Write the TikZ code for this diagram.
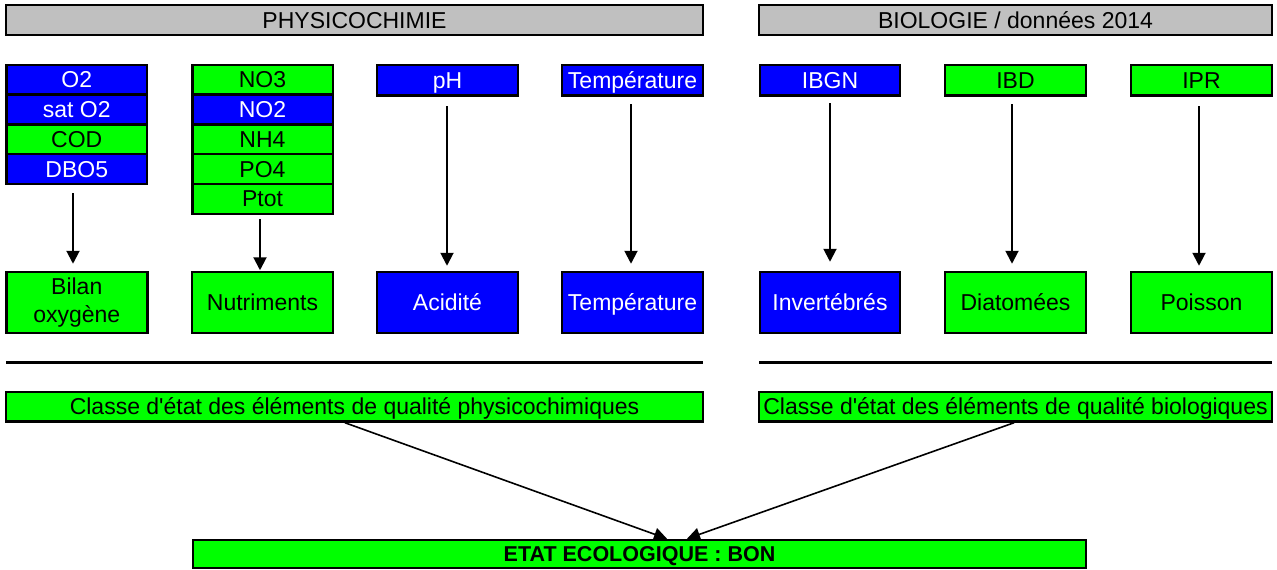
\documentclass[tikz,border=0pt]{standalone}
\usepackage{fontspec}
\setmainfont{Liberation Sans}
\usetikzlibrary{arrows.meta}
\definecolor{bl}{RGB}{0,0,255}
\definecolor{gr}{RGB}{0,255,0}
\definecolor{hd}{RGB}{192,192,192}
\tikzset{
  box/.style={draw=black, line width=2.5pt, inner sep=0pt,
    font=\fontsize{23}{28}\selectfont, text height=16pt, text depth=0pt},
  bbox/.style={box, fill=bl, text=white},
  gbox/.style={box, fill=gr, text=black},
  hbox/.style={box, fill=hd, text=black},
  cell/.style={minimum width=140.5pt, minimum height=29.75pt},
  top/.style={minimum width=141pt, minimum height=30.5pt},
  res/.style={minimum width=141pt, minimum height=61pt},
  wide/.style={minimum height=29.5pt},
  arr/.style={line width=2pt, -{Triangle[width=13pt,length=13pt]}},
  rule/.style={line width=3pt},
}
\begin{document}
\begin{tikzpicture}[x=1pt,y=-1pt]
\useasboundingbox (0,0) rectangle (1277,570);
% headers
\node[hbox, minimum width=697pt, minimum height=30pt] (hphys) at (354.5,20) {PHYSICOCHIMIE};
\node[hbox, minimum width=513pt, minimum height=30pt] (hbio) at (1015.5,20) {BIOLOGIE / données 2014};
% oxygen stack
\node[bbox, cell] (o2) at (76.75,79.9) {O2};
\node[bbox, cell] (sato2) at (76.75,109.6) {sat O2};
\node[gbox, cell] (cod) at (76.75,139.4) {COD};
\node[bbox, cell] (dbo) at (76.75,169.1) {DBO5};
% nutrient stack
\node[gbox, cell] (no3) at (262.5,79.9) {NO3};
\node[bbox, cell] (no2) at (262.5,109.6) {NO2};
\node[gbox, cell] (nh4) at (262.5,139.4) {NH4};
\node[gbox, cell] (po4) at (262.5,169.1) {PO4};
\node[gbox, cell] (ptot) at (262.5,198.9) {Ptot};
% single top boxes
\node[bbox, top] (ph) at (447.5,80.25) {pH};
\node[bbox, top] (temp) at (632.5,80.25) {Température};
\node[bbox, top, minimum width=140pt] (ibgn) at (830,80.25) {IBGN};
\node[gbox, top] (ibd) at (1015.5,80.25) {IBD};
\node[gbox, top] (ipr) at (1201.5,80.25) {IPR};
% result boxes
\node[gbox, res, text height=, text depth=, align=center] (bilan) at (76.75,302.5) {Bilan\\oxygène};
\node[gbox, res] (nutri) at (262.5,302.5) {Nutriments};
\node[bbox, res] (acid) at (447.5,302.5) {Acidité};
\node[bbox, res] (tempr) at (632.5,302.5) {Température};
\node[bbox, res, minimum width=140pt] (inv) at (830,302.5) {Invertébrés};
\node[gbox, res] (diat) at (1015.5,302.5) {Diatomées};
\node[gbox, res] (pois) at (1201.5,302.5) {Poisson};
% separator rules
\coordinate (r1a) at (6,362); \coordinate (r1b) at (703,362);
\coordinate (r2a) at (759,362); \coordinate (r2b) at (1272,362);
\draw[rule] (r1a) -- (r1b);
\draw[rule] (r2a) -- (r2b);
% class boxes
\node[gbox, wide, minimum width=697pt] (cphys) at (354.5,406.75) {Classe d\textquotesingle état des éléments de qualité physicochimiques};
\node[gbox, wide, minimum width=513pt] (cbio) at (1015.5,406.75) {Classe d\textquotesingle état des éléments de qualité biologiques};
% final
\node[gbox, minimum width=893pt, minimum height=28pt, font=\fontsize{21.5}{25}\selectfont\bfseries, text height=15.5pt] (etat) at (639.5,554) {ETAT ECOLOGIQUE : BON};
% vertical arrows
\draw[arr, shorten <=8pt, shorten >=7pt] ([xshift=-3.75pt]dbo.south) -- ([xshift=-3.75pt]bilan.north);
\draw[arr, shorten <=4pt, shorten >=0.5pt] ([xshift=-2.5pt]ptot.south) -- ([xshift=-2.5pt]nutri.north);
\draw[arr, shorten <=9.5pt, shorten >=5pt] ([xshift=-0.5pt]ph.south) -- ([xshift=-0.5pt]acid.north);
\draw[arr, shorten <=7.5pt, shorten >=7pt] ([xshift=-1.5pt]temp.south) -- ([xshift=-1.5pt]tempr.north);
\draw[arr, shorten <=6.5pt, shorten >=9pt] (ibgn.south) -- (inv.north);
\draw[arr, shorten <=7.5pt, shorten >=7pt] ([xshift=-3.5pt]ibd.south) -- ([xshift=-3.5pt]diat.north);
\draw[arr, shorten <=9.5pt, shorten >=5pt] ([xshift=-2.5pt]ipr.south) -- ([xshift=-2.5pt]pois.north);
% diagonal arrows
\draw[arr, line width=1.6pt] ([xshift=-9.5pt]cphys.south) -- ([xshift=27.5pt]etat.north);
\draw[arr, line width=1.6pt] ([xshift=-1.5pt]cbio.south) -- ([xshift=47.5pt]etat.north);
\end{tikzpicture}
\end{document}
